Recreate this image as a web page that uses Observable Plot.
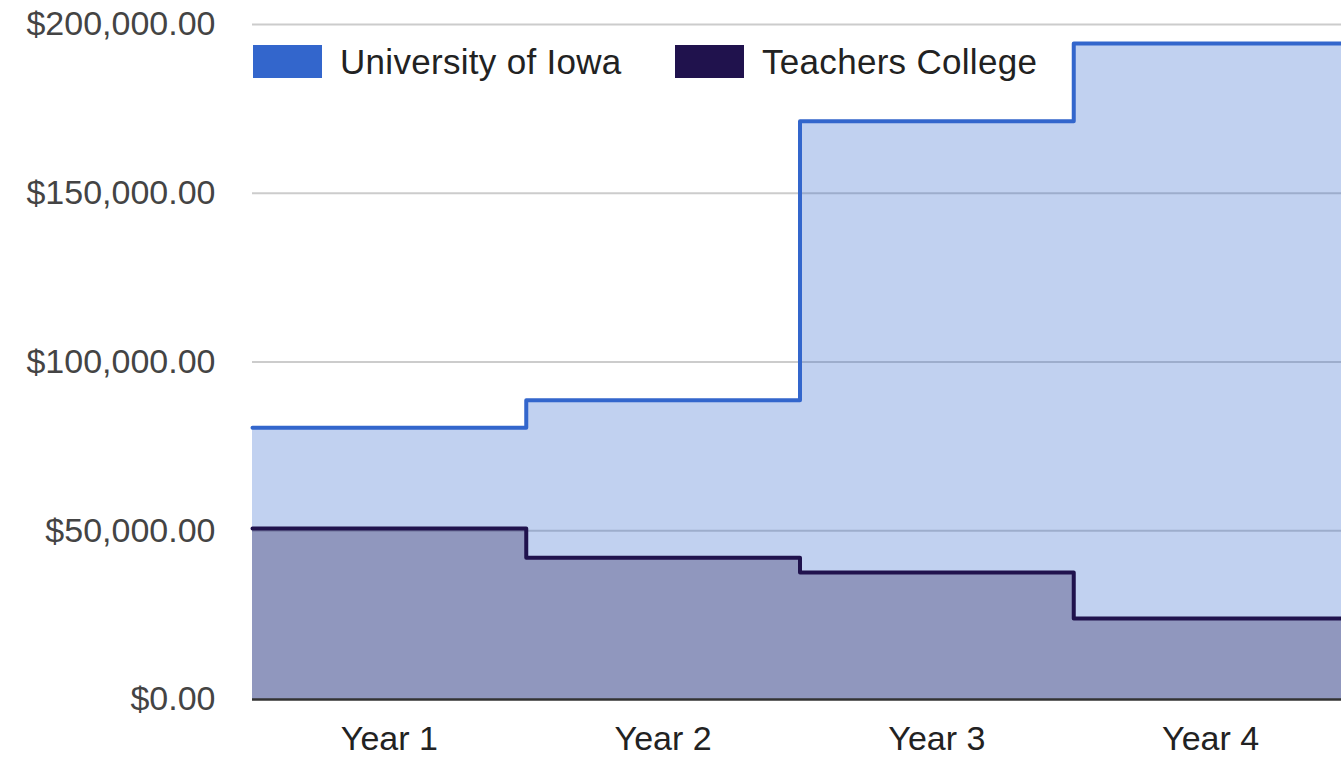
<!DOCTYPE html>
<html>
<head>
<meta charset="utf-8">
<script src="https://cdn.jsdelivr.net/npm/d3@7"></script>
<script src="https://cdn.jsdelivr.net/npm/@observablehq/plot@0.6"></script>
<style>
  html, body { margin: 0; padding: 0; background: #fff; overflow: hidden; }
  #wrap { position: relative; width: 1341px; height: 759px; overflow: hidden; }
  #wrap svg { max-width: none !important; }
  .legend { position: absolute; top: 45px; height: 33px; display: flex; align-items: center;
            font-family: "Liberation Sans", Arial, sans-serif; font-size: 35px; color: #222; letter-spacing: 0.3px; }
  .legend .sw { width: 69px; height: 33px; margin-right: 18px; box-sizing: border-box; }
</style>
</head>
<body>
<div id="wrap"></div>
<script>
const years = ["Year 1", "Year 2", "Year 3", "Year 4"];
const seriesNames = ["University of Iowa", "Teachers College"];
const iowa = [80500, 88700, 171300, 194400];
const teachers = [50700, 42000, 37600, 24000];
const seriesColors = ["#3366cc", "#20124d"];
const yTicks = [0, 50000, 100000, 150000, 200000];

const seriesValues = [iowa, teachers];
const rows = [];
seriesNames.forEach((name, s) => {
  const vals = seriesValues[s];
  vals.forEach((v, i) => rows.push({series: name, x: i, v}));
  rows.push({series: name, x: vals.length, v: vals[vals.length - 1]});
});
const xTickPos = years.map((_, i) => i + 0.5);

const chart = Plot.plot({
  width: 1347,
  height: 759,
  marginLeft: 252,
  marginRight: 0,
  marginTop: 24,
  marginBottom: 60,
  style: {fontFamily: "'Liberation Sans', Arial, sans-serif", fontSize: "34px", background: "#fff", maxWidth: "none"},
  x: {domain: [0, years.length], axis: null},
  y: {domain: [0, 200000], axis: null},
  color: {domain: seriesNames, range: seriesColors},
  marks: [
    Plot.ruleY(yTicks.filter(d => d > 0), {stroke: "#cccccc", strokeWidth: 2}),
    Plot.areaY(rows, {x: "x", y1: 0, y2: "v", z: "series", fill: "series", fillOpacity: 0.3, curve: "step-after"}),
    Plot.lineY(rows, {x: "x", y: "v", z: "series", stroke: "series", strokeWidth: 4, curve: "step-after"}),
    Plot.ruleY([0], {stroke: "#333333", strokeWidth: 2.5}),
    Plot.axisY({ticks: yTicks, tickSize: 0, tickPadding: 37, tickFormat: d3.format("$,.2f"), fill: "#444", anchor: "left", label: null, style: {letterSpacing: "1.2px"}}),
    Plot.axisX({ticks: xTickPos, tickSize: 0, tickPadding: 26, tickFormat: d => years[Math.floor(d)], fill: "#222", anchor: "bottom", label: null})
  ]
});

const wrap = document.getElementById("wrap");
wrap.appendChild(chart);

const legendLeft = [253, 675];
seriesNames.forEach((name, i) => {
  const item = document.createElement("div");
  item.className = "legend";
  item.style.left = legendLeft[i] + "px";
  const sw = document.createElement("div");
  sw.className = "sw";
  sw.style.background = seriesColors[i];
  const label = document.createElement("span");
  label.textContent = name;
  item.appendChild(sw);
  item.appendChild(label);
  wrap.appendChild(item);
});
</script>
</body>
</html>
